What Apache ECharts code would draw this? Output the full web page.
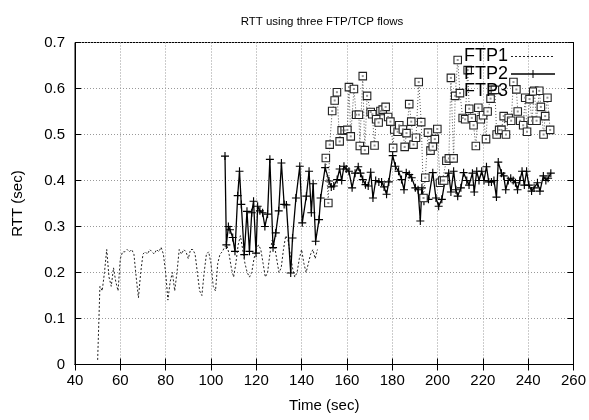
<!DOCTYPE html>
<html><head><meta charset="utf-8">
<script src="https://cdn.jsdelivr.net/npm/echarts@6/dist/echarts.min.js"></script>
<style>html,body{margin:0;padding:0;background:#fff}#c{width:589px;height:420px}</style>
</head><body><div id="c"></div>
<script>
const ftp1Time = [50,51,52,53,54,55,56,57,58,59,60,61,62,63,64,65,66,67,68,69,70,71,72,73,74,75,76,77,78,79,80,81,82,83,84,85,86,87,88,89,90,91,92,93,94,95,96,97,98,99,100,101,102,103,104,105,106,107,108,109,110,111,112,113,114,115,116,117,118,119,120,121,122,123,124,125,126,127,128,129,130,131,132,133,134,135,136,137,138,139,140,141,142,143,144,145,146,147];
const ftp1Rtt = [0.01,0.17,0.16,0.20,0.25,0.19,0.17,0.21,0.18,0.16,0.23,0.245,0.245,0.25,0.245,0.25,0.24,0.19,0.145,0.20,0.24,0.245,0.24,0.25,0.245,0.24,0.25,0.245,0.255,0.24,0.20,0.14,0.18,0.20,0.16,0.20,0.25,0.24,0.25,0.245,0.23,0.25,0.25,0.24,0.20,0.16,0.15,0.20,0.24,0.245,0.22,0.17,0.16,0.22,0.24,0.245,0.255,0.26,0.24,0.21,0.19,0.22,0.26,0.28,0.25,0.22,0.20,0.19,0.20,0.23,0.25,0.26,0.25,0.22,0.19,0.20,0.24,0.27,0.26,0.23,0.20,0.21,0.25,0.28,0.27,0.24,0.21,0.19,0.20,0.23,0.25,0.22,0.20,0.22,0.24,0.25,0.23,0.25];

const ftp2Time = [106.2,106.8,107.7,108.4,109.6,110.6,111.8,112.6,113.4,114.7,115.9,117.0,118.0,118.8,119.9,120.6,121.6,122.8,123.8,125.0,126.0,127.4,128.6,129.9,131.1,132.3,133.3,135.2,136.0,137.5,139.2,140.3,142.1,143.3,144.3,145.1,146.2,147.7,148.4,150.4,152.1,153.1,154.2,155.7,156.8,157.7,158.7,159.7,160.9,162.3,163.6,165.0,166.0,167.0,168.2,169.4,170.5,171.5,172.7,174.1,175.3,176.4,177.5,178.5,180.2,181.4,182.8,184.1,185.2,186.2,187.5,188.6,190.2,191.4,192.4,193.1,194.0,194.9,196.0,197.9,199.3,200.5,201.9,203.3,204.9,205.9,207.1,208.1,208.9,210.3,211.5,212.9,213.9,215.4,216.2,217.3,218.3,219.5,220.5,221.6,222.6,223.8,224.9,226.0,226.8,228.2,229.2,230.1,231.2,232.3,233.4,234.4,235.3,236.3,237.3,238.3,239.3,240.3,241.5,242.6,244.1,245.2,246.7,247.8,248.8,250.0];
const ftp2Rtt = [0.453,0.26,0.30,0.293,0.276,0.246,0.367,0.42,0.348,0.239,0.333,0.246,0.33,0.355,0.242,0.344,0.334,0.33,0.30,0.327,0.446,0.254,0.286,0.334,0.438,0.348,0.347,0.199,0.275,0.362,0.431,0.308,0.366,0.42,0.33,0.393,0.268,0.315,0.362,0.428,0.399,0.386,0.388,0.402,0.425,0.40,0.431,0.425,0.42,0.384,0.416,0.43,0.416,0.402,0.391,0.388,0.418,0.362,0.40,0.397,0.397,0.386,0.37,0.397,0.454,0.431,0.42,0.402,0.38,0.417,0.413,0.406,0.384,0.38,0.312,0.384,0.355,0.362,0.359,0.417,0.362,0.344,0.359,0.40,0.416,0.375,0.42,0.38,0.366,0.384,0.417,0.40,0.39,0.416,0.375,0.42,0.40,0.42,0.40,0.43,0.397,0.397,0.40,0.364,0.44,0.416,0.41,0.38,0.40,0.405,0.40,0.395,0.38,0.40,0.42,0.39,0.42,0.39,0.377,0.384,0.395,0.377,0.41,0.40,0.405,0.416];

const ftp3Time = [150.7,151.8,152.4,153.5,154.6,155.6,156.8,157.7,159.0,160.2,160.9,161.7,163.1,164.1,165.3,165.7,167.0,167.9,168.9,170.5,171.2,172.2,172.9,174.0,174.8,175.8,177.1,178.2,179.2,180.4,180.9,182.4,183.1,184.7,185.5,186.3,187.5,188.4,189.4,190.5,191.7,192.8,193.8,194.6,195.8,196.9,197.9,198.8,199.9,201.1,202.1,202.9,203.9,205.0,205.9,207.1,207.8,208.9,209.9,211.1,212.2,213.3,214.0,215.1,215.9,216.9,218.0,219.1,220.1,221.4,222.1,223.4,224.2,225.3,226.1,227.2,228.2,229.2,230.2,231.4,232.5,233.5,234.8,235.4,236.5,237.8,238.7,239.5,240.6,241.7,242.7,243.7,244.9,245.6,246.8,247.5,248.5,249.7];
const ftp3Rtt = [0.449,0.351,0.478,0.551,0.574,0.592,0.485,0.509,0.509,0.51,0.603,0.496,0.599,0.543,0.543,0.475,0.627,0.466,0.584,0.549,0.544,0.476,0.533,0.526,0.551,0.554,0.56,0.538,0.528,0.471,0.511,0.506,0.52,0.511,0.473,0.503,0.566,0.528,0.478,0.493,0.614,0.527,0.362,0.406,0.504,0.465,0.474,0.49,0.512,0.395,0.40,0.40,0.443,0.448,0.623,0.448,0.584,0.662,0.59,0.536,0.533,0.64,0.556,0.536,0.52,0.475,0.558,0.533,0.542,0.49,0.55,0.578,0.597,0.597,0.50,0.51,0.51,0.54,0.50,0.536,0.53,0.614,0.598,0.55,0.53,0.52,0.58,0.506,0.577,0.53,0.595,0.53,0.595,0.56,0.50,0.54,0.58,0.51];

const xTicks = [40,60,80,100,120,140,160,180,200,220,240,260];
const yTicks = [0,0.1,0.2,0.3,0.4,0.5,0.6,0.7];
const seriesNames = ['FTP1', 'FTP2', 'FTP3'];

function pairs(a, b) { return a.map((t, i) => [t, b[i]]); }
const FONT = 'Liberation Sans';
const plusPath = 'path://M3,0H4V3H7V4H4V7H3V4H0V3H3Z';

const chart = echarts.init(document.getElementById('c'), null, {renderer: 'canvas'});
const axisCommon = {
  axisLine: {show: true, lineStyle: {color: '#000', width: 1}},
  axisTick: {show: true, inside: true, length: 6, lineStyle: {color: '#000'}}
};

// legend key (text on the left, sample on the right, gnuplot style)
const keyX = 508, keyRows = [56.5, 74, 91.5], sx1 = 511, sx2 = 555, sxm = 533;
const keyGraphics = [];
seriesNames.forEach((n, i) => {
  keyGraphics.push({type: 'text', x: keyX, y: keyRows[i], z: 100,
    style: {text: n, font: '18px "Liberation Sans"', fill: '#000', align: 'right', verticalAlign: 'middle'}});
});
keyGraphics.push({type: 'line', z: 100, shape: {x1: sx1, y1: keyRows[0], x2: sx2, y2: keyRows[0]},
  style: {stroke: '#222', lineWidth: 1, lineDash: [2, 2]}});
keyGraphics.push({type: 'line', z: 100, shape: {x1: sx1, y1: keyRows[1], x2: sx2, y2: keyRows[1]},
  style: {stroke: '#000', lineWidth: 1.3}});
keyGraphics.push({type: 'line', z: 100, shape: {x1: sxm, y1: keyRows[1] - 4, x2: sxm, y2: keyRows[1] + 4},
  style: {stroke: '#000', lineWidth: 1}});
keyGraphics.push({type: 'rect', z: 100, shape: {x: sxm - 3.5, y: keyRows[2] - 3.5, width: 7, height: 7},
  style: {fill: '#fff', stroke: '#222', lineWidth: 1.1}});
keyGraphics.push({type: 'rect', z: 101, shape: {x: sxm - 1, y: keyRows[2] - 1, width: 2, height: 2},
  style: {fill: '#777'}});

chart.setOption({
  animation: false,
  backgroundColor: '#fff',
  title: {
    text: 'RTT using three FTP/TCP flows',
    left: 317, textAlign: 'center', top: 11,
    textStyle: {fontFamily: FONT, fontSize: 11.5, fontWeight: 'normal', color: '#000'}
  },
  grid: {left: 75, right: 13.5, top: 42.5, bottom: 55.5, show: true, borderColor: '#000', borderWidth: 1},
  graphic: keyGraphics,
  xAxis: [
    Object.assign({
      type: 'value', min: xTicks[0], max: xTicks[xTicks.length - 1], interval: 20,
      name: 'Time (sec)', nameLocation: 'middle', nameGap: 34,
      nameTextStyle: {fontFamily: FONT, fontSize: 15, color: '#000'},
      axisLabel: {fontFamily: FONT, fontSize: 15, color: '#000', margin: 9},
      splitLine: {show: true, lineStyle: {color: '#999', type: [1, 2], width: 1}}
    }, axisCommon),
    Object.assign({
      type: 'value', position: 'top', min: xTicks[0], max: xTicks[xTicks.length - 1], interval: 20,
      axisLabel: {show: false}, splitLine: {show: false}
    }, axisCommon)
  ],
  yAxis: [
    Object.assign({
      type: 'value', min: yTicks[0], max: yTicks[yTicks.length - 1], interval: 0.1,
      name: 'RTT (sec)', nameLocation: 'middle', nameGap: 50, nameRotate: 90,
      nameTextStyle: {fontFamily: FONT, fontSize: 15, color: '#000'},
      axisLabel: {fontFamily: FONT, fontSize: 15, color: '#000', margin: 10,
        formatter: v => v === 0 ? '0' : v.toFixed(1)},
      splitLine: {show: true, lineStyle: {color: '#999', type: [1, 2], width: 1}}
    }, axisCommon),
    Object.assign({
      type: 'value', position: 'right', min: yTicks[0], max: yTicks[yTicks.length - 1], interval: 0.1,
      axisLabel: {show: false}, splitLine: {show: false}
    }, axisCommon)
  ],
  series: [
    {
      name: seriesNames[0], type: 'line', data: pairs(ftp1Time, ftp1Rtt),
      symbol: 'none', lineStyle: {color: '#222', width: 1, type: [2, 2]},
      itemStyle: {color: '#222'}, z: 2
    },
    {
      name: seriesNames[1], type: 'line', data: pairs(ftp2Time, ftp2Rtt),
      symbol: plusPath, symbolSize: 8, showSymbol: true,
      lineStyle: {color: '#000', width: 1.3}, itemStyle: {color: '#000'}, z: 3
    },
    {
      name: seriesNames[2], type: 'line', data: pairs(ftp3Time, ftp3Rtt),
      symbol: 'rect', symbolSize: 7.5, showSymbol: true,
      lineStyle: {color: '#555', width: 1, type: [1, 2]},
      itemStyle: {color: '#fff', borderColor: '#222', borderWidth: 1.1}, z: 4
    },
    {
      name: 'FTP3 centre', type: 'scatter', data: pairs(ftp3Time, ftp3Rtt),
      symbol: 'rect', symbolSize: 2, itemStyle: {color: '#777'}, silent: true, z: 5
    }
  ]
});
</script>
</body></html>
